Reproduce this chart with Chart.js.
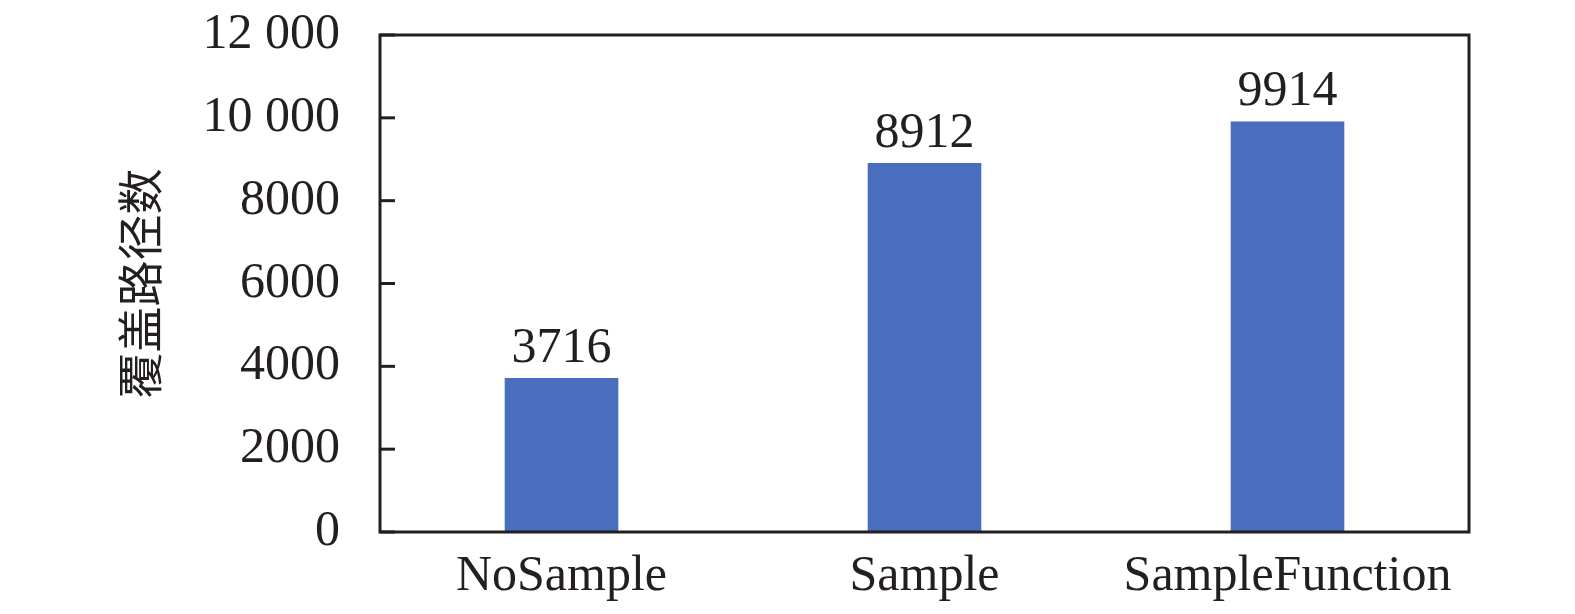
<!DOCTYPE html>
<html><head><meta charset="utf-8">
<script src="https://cdn.jsdelivr.net/npm/chart.js@4"></script>
<style>html,body{margin:0;padding:0;background:#fff}#wrap{width:1575px;height:614px}</style>
</head><body><div id="wrap"><canvas id="c"></canvas></div>
<script>
const categories = ["NoSample", "Sample", "SampleFunction"];
const pathCounts = [3716, 8912, 9914];
const yTickValues = [0, 2000, 4000, 6000, 8000, 10000, 12000];
const yTitle = "覆盖路径数";

const serif = "'Liberation Serif','Times New Roman',serif";
const ink = "#231f20";

const decor = {
  id: "decor",
  afterDraw(chart) {
    const ctx = chart.ctx, a = chart.chartArea, ys = chart.scales.y;
    ctx.save();
    ctx.strokeStyle = ink; ctx.lineWidth = 3;
    ctx.strokeRect(a.left, a.top, a.right - a.left, a.bottom - a.top);
    ys.ticks.forEach(t => {
      const y = ys.getPixelForValue(t.value);
      ctx.beginPath(); ctx.moveTo(a.left, y); ctx.lineTo(a.left + 15, y); ctx.stroke();
    });
    ctx.fillStyle = ink; ctx.font = "50px " + serif;
    ctx.textAlign = "center"; ctx.textBaseline = "alphabetic";
    const meta = chart.getDatasetMeta(0);
    meta.data.forEach((bar, i) => {
      ctx.fillText(String(chart.data.datasets[0].data[i]), bar.x, bar.y - 16);
    });
    ctx.restore();
  }
};

new Chart(document.getElementById("c"), {
  type: "bar",
  data: { labels: categories, datasets: [{ data: pathCounts, backgroundColor: "#4a6ebe", categoryPercentage: 1, barPercentage: 0.313 }] },
  options: {
    responsive: true, maintainAspectRatio: false, animation: false,
    devicePixelRatio: 1,
    layout: { padding: { left: 112, right: 106, top: 35, bottom: 0 } },
    plugins: { legend: { display: false }, tooltip: { enabled: false } },
    scales: {
      x: {
        grid: { display: false, drawTicks: false },
        border: { display: false },
        ticks: { color: ink, font: { family: serif, size: 50 }, padding: 15 },
        afterFit(s) { s.height = 82; s.paddingLeft = 0; s.paddingRight = 0; }
      },
      y: {
        min: 0, max: 12000,
        afterBuildTicks(s) { s.ticks = yTickValues.map(v => ({ value: v })); },
        grid: { display: false, drawTicks: false },
        border: { display: false },
        ticks: {
          color: ink, font: { family: serif, size: 50 }, padding: 40,
          callback(v) { return v >= 10000 ? String(v).replace(/(\d+)(\d{3})$/, "$1 $2") : String(v); }
        },
        title: { display: true, text: yTitle, color: ink, font: { family: "'Noto Sans CJK SC',sans-serif", size: 46 }, padding: 0 },
        afterFit(s) { s.width = 268; s.paddingTop = 0; s.paddingBottom = 0; }
      }
    }
  },
  plugins: [decor]
});
</script></body></html>
